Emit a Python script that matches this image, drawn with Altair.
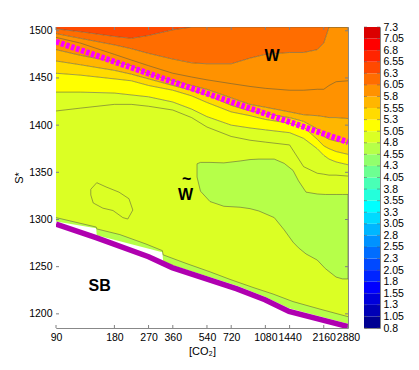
import altair as alt
import pandas as pd

S_TOP, S_BOT = 1504, 1185

# CO2 sample columns for the contour lines
co2 = [90, 120, 180, 220, 270, 360, 450, 540, 720, 900, 1080, 1440, 1700, 2000, 2160, 2300, 2500, 2880]
s_630 = [1502, 1499, 1494, 1492, 1495, 1501, 1504, 1504, 1504, 1504, 1504, 1504, 1504, 1504, 1504, 1504, 1504, 1504]
s_605 = [1497, 1492, 1485, 1481, 1476, 1470, 1466, 1465, 1465, 1471, 1475, 1477, 1477, 1480, 1487, 1504, 1504, 1504]
s_593 = [1493, 1487, 1475, 1469, 1463, 1455, 1451, 1448, 1444, 1441, 1439, 1437, 1437, 1438, 1438, 1442, 1446, 1447]
s_580 = [1480, 1474, 1467, 1463, 1454, 1447, 1442, 1438, 1429, 1422, 1419, 1414, 1411, 1410, 1409, 1408, 1408, 1407]
s_555 = [1468, 1464, 1458, 1454, 1449, 1442, 1437, 1432, 1421, 1415, 1412, 1408, 1404, 1396, 1388, 1385, 1383, 1381]
s_530 = [1455, 1453, 1449, 1447, 1442, 1437, 1431, 1424, 1414, 1410, 1406, 1402, 1398, 1385, 1378, 1375, 1372, 1369]
s_505 = [1435, 1435, 1434, 1432, 1430, 1424.5, 1417, 1409, 1400, 1397, 1395, 1392, 1386, 1375, 1368, 1364, 1361, 1358]
s_493 = [1415, 1418, 1422, 1422, 1420, 1416, 1408, 1398, 1388, 1384, 1382, 1379, 1356, 1349, 1348, 1347, 1347, 1346]

# 4.55-4.8 region (centre right)
blob_co2 = [480, 500, 560, 660, 800, 900, 1000, 1200, 1350, 1500, 1600, 1750, 2000, 2200, 2500, 2700, 2880]
blob_top = [1359, 1360.5, 1360.5, 1360, 1362, 1363.5, 1364, 1364, 1359.5, 1352, 1341, 1329, 1327, 1326.5, 1326.5, 1326.5, 1326.5]
blob_bot = [1345, 1330, 1319, 1314, 1313, 1311.5, 1309, 1302, 1289, 1276, 1270, 1263.5, 1257, 1248, 1239, 1237, 1237]

# small closed contour (left)
island_co2 = [136, 146, 163, 190, 214, 224, 211, 199, 177, 157, 140, 136, 136]
island_s = [1332, 1339, 1334.5, 1329, 1322, 1310, 1300.5, 1302, 1309.5, 1312, 1317.5, 1326, 1332]

# thin 4.55-4.8 strip along the lower edge
strip_co2 = [90, 145, 146, 192, 262, 318, 321, 421, 560, 710, 932, 1183, 1499, 2066, 2880]
strip_top = [1302, 1292, 1290, 1284, 1274, 1267, 1262.5, 1253.5, 1244.5, 1236.5, 1228, 1221, 1213, 1205, 1197]

# lower edge of the coloured field (white SB region below)
edge_co2 = [90, 145, 146, 318, 321, 357, 503, 771, 1075, 1430, 2880]
edge_s = [1298, 1290.6, 1283.2, 1265.2, 1256.2, 1251.9, 1241.9, 1229.7, 1218.0, 1205.9, 1189.5]

# SB boundary (thick purple) and W boundary (dotted magenta)
sb_co2 = [90, 146, 270, 357, 771, 1075, 1430, 2880]
sb_s = [1295, 1280.5, 1260.5, 1249, 1226.5, 1215, 1202.5, 1186.5]
wb_co2 = [90, 2880]
wb_s = [1488.5, 1382]

# labels
lab_text = ["W", "W", "~", "SB"]
lab_co2 = [1168, 419, 425, 151]
lab_s = [1473.5, 1326, 1343, 1230]

# axis ticks
x_ticks = [90, 180, 270, 360, 540, 720, 1080, 1440, 2160, 2880]
y_ticks = [1200, 1250, 1300, 1350, 1400, 1450, 1500]

# colour bar
cb_levels = [0.8, 1.05, 1.3, 1.55, 1.8, 2.05, 2.3, 2.55, 2.8, 3.05, 3.3, 3.55, 3.8, 4.05,
             4.3, 4.55, 4.8, 5.05, 5.3, 5.55, 5.8, 6.05, 6.3, 6.55, 6.8, 7.05, 7.3]
cb_colors = ["#000092", "#0000B6", "#0000DB", "#0000FF", "#0024FF", "#0049FF", "#006DFF",
             "#0092FF", "#00B6FF", "#00DBFF", "#00FFFF", "#24FFDB", "#49FFB6", "#6DFF92",
             "#92FF6D", "#B6FF49", "#DBFF24", "#FFFF00", "#FFDB00", "#FFB600", "#FF9200",
             "#FF6D00", "#FF4900", "#FF2400", "#FF0000", "#DB0000"]

# ---------- tables ----------
top_line = [S_TOP] * len(co2)
bot_line = [S_BOT] * len(co2)
band_defs = [
    ("b1", "#FF4900", top_line, s_630),
    ("b2", "#FF6D00", s_630, s_605),
    ("b3", "#FF9200", s_605, s_580),
    ("b4", "#FFB600", s_580, s_555),
    ("b5", "#FFDB00", s_555, s_530),
    ("b6", "#FFFF00", s_530, s_505),
    ("b7", "#DBFF24", s_505, bot_line),
]
rows = []
for name, col, up, lo in band_defs:
    for c, a, b in zip(co2, up, lo):
        rows.append({"band": name, "color": col, "co2": c, "s": a, "s2": b})
bands_df = pd.DataFrame(rows)

strip_df = pd.DataFrame({"co2": strip_co2, "s": strip_top, "s2": [S_BOT] * len(strip_co2)})
blob_df = pd.DataFrame({"co2": blob_co2, "s": blob_top, "s2": blob_bot})
white_df = pd.DataFrame({"co2": edge_co2, "s": edge_s, "s2": [S_BOT] * len(edge_co2)})

lrows = []
def add_line(name, xs, ys):
    for i, (x, y) in enumerate(zip(xs, ys)):
        lrows.append({"line": name, "co2": x, "s": y, "ord": i})

for nm, arr in [("l630", s_630), ("l605", s_605), ("l593", s_593), ("l580", s_580),
                ("l555", s_555), ("l530", s_530), ("l505", s_505), ("l493", s_493)]:
    add_line(nm, co2, arr)
add_line("strip", strip_co2, strip_top)
add_line("island", island_co2, island_s)
add_line("blob", blob_co2 + blob_co2[::-1] + blob_co2[:1],
         blob_top + blob_bot[::-1] + blob_top[:1])
lines_df = pd.DataFrame(lrows)

sb_df = pd.DataFrame({"co2": sb_co2, "s": sb_s})
wb_df = pd.DataFrame({"co2": wb_co2, "s": wb_s})
lab_df = pd.DataFrame({"text": lab_text, "co2": lab_co2, "s": lab_s})
xt_df = pd.DataFrame({"co2": x_ticks})
yt_df = pd.DataFrame({"s": y_ticks})
cb_df = pd.DataFrame({"lo": cb_levels[:-1], "hi": cb_levels[1:], "color": cb_colors})
cbt_df = pd.DataFrame({"lo": cb_levels})

# ---------- encodings ----------
W_PLOT, H_PLOT = 292, 301
xs = alt.Scale(type="log", domain=[90, 2880], nice=False)
ys = alt.Scale(domain=[S_BOT, S_TOP], nice=False, zero=False)
xaxis = alt.Axis(title="[CO₂]", values=x_ticks, format="d", labelFlush=False,
                 labelOverlap=False, ticks=False, domain=False, grid=False,
                 labelPadding=4, titlePadding=3)
yaxis = alt.Axis(title="S*", values=y_ticks, format="d", labelFlush=False,
                 labelOverlap=False, ticks=False, domain=False, grid=False,
                 labelPadding=4, titlePadding=4)
X = alt.X("co2:Q", scale=xs, axis=xaxis)
Y = alt.Y("s:Q", scale=ys, axis=yaxis, stack=None)

bands = alt.Chart(bands_df).mark_area(clip=True).encode(
    x=X, y=Y, y2="s2:Q", color=alt.Color("color:N", scale=None), detail="band:N")
strip = alt.Chart(strip_df).mark_area(clip=True, color="#B6FF49").encode(x=X, y=Y, y2="s2:Q")
blob = alt.Chart(blob_df).mark_area(clip=True, color="#B6FF49").encode(x=X, y=Y, y2="s2:Q")
white = alt.Chart(white_df).mark_area(clip=True, color="#FFFFFF").encode(x=X, y=Y, y2="s2:Q")
lines = alt.Chart(lines_df).mark_line(clip=True, color="#5a5a40", strokeWidth=0.7, opacity=0.8).encode(
    x=X, y=Y, detail="line:N", order="ord:Q")
wline = alt.Chart(wb_df).mark_line(clip=True, color="#FF00FF", strokeWidth=6,
                                   strokeDash=[3.5, 1.8], strokeCap="butt").encode(x=X, y=Y)
sbline = alt.Chart(sb_df).mark_line(clip=True, color="#B000B0", strokeWidth=5.5).encode(x=X, y=Y)
labels = alt.Chart(lab_df).mark_text(fontSize=16, fontWeight="bold", color="black",
                                     font="Liberation Sans").encode(x=X, y=Y, text="text:N")
tick_style = dict(color="#808080", strokeWidth=1)
yt_l = alt.Chart(yt_df).mark_rule(**tick_style).encode(y=Y, x=alt.value(0), x2=alt.value(3))
yt_r = alt.Chart(yt_df).mark_rule(**tick_style).encode(y=Y, x=alt.value(W_PLOT - 3), x2=alt.value(W_PLOT))
xt_b = alt.Chart(xt_df).mark_rule(**tick_style).encode(x=X, y=alt.value(H_PLOT - 3), y2=alt.value(H_PLOT))
xt_t = alt.Chart(xt_df).mark_rule(**tick_style).encode(x=X, y=alt.value(0), y2=alt.value(3))

main = alt.layer(bands, strip, blob, white, lines, wline, sbline, labels,
                 yt_l, yt_r, xt_b, xt_t).properties(width=W_PLOT, height=H_PLOT)

cb_y = alt.Y("lo:Q", scale=alt.Scale(domain=[0.8, 7.3], nice=False, zero=False),
             axis=alt.Axis(orient="right", values=cb_levels, format=".2~f", title=None,
                           ticks=False, domain=False, grid=False, labelFlush=False,
                           labelOverlap=False, labelPadding=3))
cb_rect = alt.Chart(cb_df).mark_rect().encode(
    x=alt.value(0), x2=alt.value(16), y=cb_y, y2="hi:Q",
    color=alt.Color("color:N", scale=None))
cb_tl = alt.Chart(cbt_df).mark_rule(color="#555555", strokeWidth=0.8, opacity=0.6).encode(
    y=cb_y, x=alt.value(0), x2=alt.value(3))
cb_tr = alt.Chart(cbt_df).mark_rule(color="#555555", strokeWidth=0.8, opacity=0.6).encode(
    y=cb_y, x=alt.value(13), x2=alt.value(16))
cb = alt.layer(cb_rect, cb_tl, cb_tr).properties(width=16, height=H_PLOT)

chart = alt.hconcat(main, cb, spacing=16, bounds="flush").resolve_scale(
    y="independent", x="independent").properties(
    padding={"left": 5, "top": 13, "right": 0, "bottom": 0}
).configure_view(stroke="#888888", strokeWidth=1).configure_axis(
    labelFont="Liberation Sans", titleFont="Liberation Sans", labelFontSize=10.5,
    titleFontSize=11, titleFontWeight="normal", labelColor="black", titleColor="black")

chart.save("out.html", embed_options={"renderer": "svg", "actions": False})
